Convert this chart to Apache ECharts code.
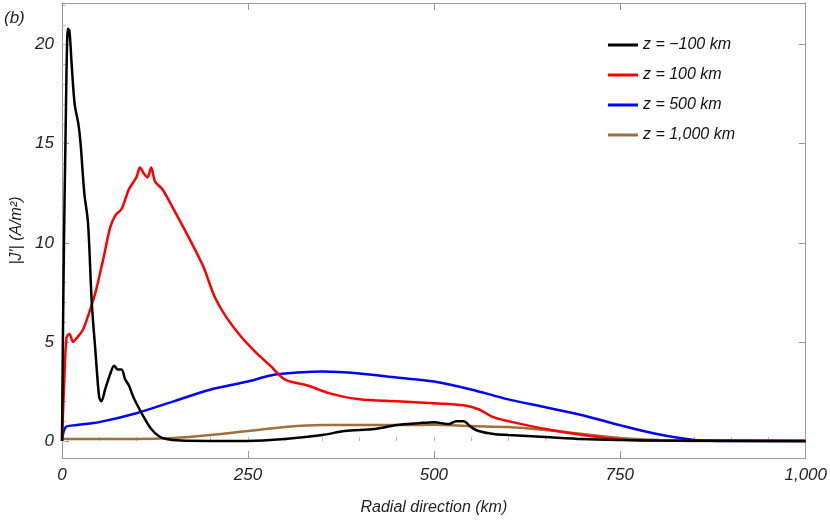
<!DOCTYPE html>
<html>
<head>
<meta charset="UTF-8">
<script src="https://cdn.jsdelivr.net/npm/echarts@6/dist/echarts.min.js"></script>
<style>body{margin:0}#main{width:830px;height:526px}</style>
</head>
<body>
<div id="main"></div>
<script>
// data (x in km, y in A/m^2)
var blackX = [0,2,5,8,10,13,17,22,25,30,35,40,45,50,53,58,65,70,75,80,85,90,95,100,110,120,130,140,160,200,250,300,350,380,420,450,480,500,520,530,540,550,560,580,600,650,700,750,800,1000];
var blackY = [0,8,16,20.8,20.7,19,17,16,15,12.5,11,7,4.5,2.2,2,2.6,3.4,3.8,3.6,3.6,3.1,2.8,2.3,1.9,1.2,0.6,0.25,0.1,0.02,0,0,0.1,0.3,0.5,0.6,0.8,0.9,0.95,0.85,1.0,1.0,0.7,0.5,0.35,0.3,0.2,0.1,0.05,0.02,0];
var redX = [0,3,6,10,15,20,28,35,45,55,65,72,80,90,100,105,110,115,120,125,135,150,170,190,205,220,240,260,280,300,330,360,400,450,500,540,560,580,600,650,700,750,800,1000];
var redY = [0,3,5.2,5.4,5.0,5.2,5.6,6.3,7.5,9.1,10.8,11.4,11.7,12.7,13.3,13.8,13.5,13.3,13.8,13.1,12.7,11.7,10.3,8.8,7.3,6.3,5.3,4.5,3.8,3.1,2.8,2.4,2.1,2.0,1.9,1.8,1.6,1.2,1.0,0.6,0.3,0.08,0.02,0];
var blueX = [0,5,20,50,100,150,200,250,280,300,350,400,450,500,550,600,650,700,750,800,850,900,1000];
var blueY = [0,0.7,0.8,0.95,1.4,2.0,2.6,3.0,3.3,3.4,3.5,3.4,3.2,3.0,2.6,2.1,1.7,1.3,0.8,0.35,0.05,0,0];
var brownX = [0,100,150,200,250,300,350,400,450,500,550,600,650,700,750,800,850,1000];
var brownY = [0.1,0.1,0.15,0.3,0.5,0.7,0.8,0.8,0.8,0.82,0.75,0.7,0.55,0.35,0.15,0.05,0,0];
var names = ['z = \u2212100 km', 'z = 100 km', 'z = 500 km', 'z = 1,000 km'];
var colors = ['#000000', '#ff0000', '#0000ff', '#a0703c'];
var xMajor = [0,250,500,750,1000];
var yMajor = [0,5,10,15,20];

function zip(xs, ys) { return xs.map(function (x, i) { return [x, ys[i]]; }); }
function range(a, b, s) { var r = []; for (var v = a; v <= b + 1e-9; v += s) r.push(+v.toFixed(3)); return r; }

var xMinor = range(0, 1000, 50), yMinor = range(0, 22, 1);
var frame = {lineStyle: {color: '#999', width: 1}};
function xAx(pos, labels) {
    return {type: 'value', min: 0, max: 1000, position: pos,
        axisLine: {show: true, onZero: false, lineStyle: {color: '#999'}},
        axisTick: {inside: true, length: 7, customValues: xMajor, lineStyle: {color: '#999'}},
        minorTick: {show: false},
        axisLabel: {show: labels, customValues: xMajor, fontStyle: 'italic', fontSize: 17, color: '#222', fontFamily: 'Liberation Sans', margin: 9},
        splitLine: {show: false},
        name: labels ? 'Radial direction (km)' : '', nameLocation: 'middle', nameGap: 42,
        nameTextStyle: {fontStyle: 'italic', fontSize: 16, color: '#222', fontFamily: 'Liberation Sans'}};
}
function yAx(pos, labels) {
    return {type: 'value', min: -0.86, max: 22.1, position: pos,
        axisLine: {show: true, onZero: false, lineStyle: {color: '#999'}},
        axisTick: {inside: true, length: 7, customValues: yMajor, lineStyle: {color: '#999'}},
        axisLabel: {show: labels, customValues: yMajor, fontStyle: 'italic', fontSize: 17, color: '#222', fontFamily: 'Liberation Sans', margin: 8},
        splitLine: {show: false},
        name: labels ? '|J\u2032| (A/m\u00b2)' : '', nameLocation: 'middle', nameGap: 36,
        nameTextStyle: {fontStyle: 'italic', fontSize: 16, color: '#222', fontFamily: 'Liberation Sans'}};
}

var series = [zip(blackX, blackY), zip(redX, redY), zip(blueX, blueY), zip(brownX, brownY)].map(function (d, i) {
    return {name: names[i], type: 'line', data: d, showSymbol: false, smooth: 0.3,
        lineStyle: {color: colors[i], width: 2.5}, itemStyle: {color: colors[i]}, z: 10 - i};
});
// minor ticks drawn as extra invisible axes would clutter; use short-tick custom axes
var chart = echarts.init(document.getElementById('main'));
chart.setOption({
    animation: false,
    grid: {left: 62, right: 20, top: 3, bottom: 68},
    xAxis: [xAx('bottom', true), xAx('top', false),
        {type: 'value', min: 0, max: 1000, position: 'bottom', axisLine: {show: false}, axisLabel: {show: false}, splitLine: {show: false},
         axisTick: {inside: true, length: 4, customValues: xMinor, lineStyle: {color: '#bbb'}}}],
    yAxis: [yAx('left', true), yAx('right', false),
        {type: 'value', min: -0.86, max: 22.1, position: 'left', axisLine: {show: false}, axisLabel: {show: false}, splitLine: {show: false},
         axisTick: {inside: true, length: 4, customValues: yMinor, lineStyle: {color: '#bbb'}}}],
    legend: {orient: 'vertical', right: 90, top: 32, itemGap: 14, icon: 'rect', itemWidth: 30, itemHeight: 3,
        data: names, textStyle: {fontStyle: 'italic', fontSize: 16, color: '#111', fontFamily: 'Liberation Sans'}},
    graphic: [{type: 'text', left: 4, top: 10, style: {text: '(b)', fontStyle: 'italic', fontSize: 17, fill: '#222', fontFamily: 'Liberation Sans'}}],
    series: series
});
</script>
</body>
</html>
